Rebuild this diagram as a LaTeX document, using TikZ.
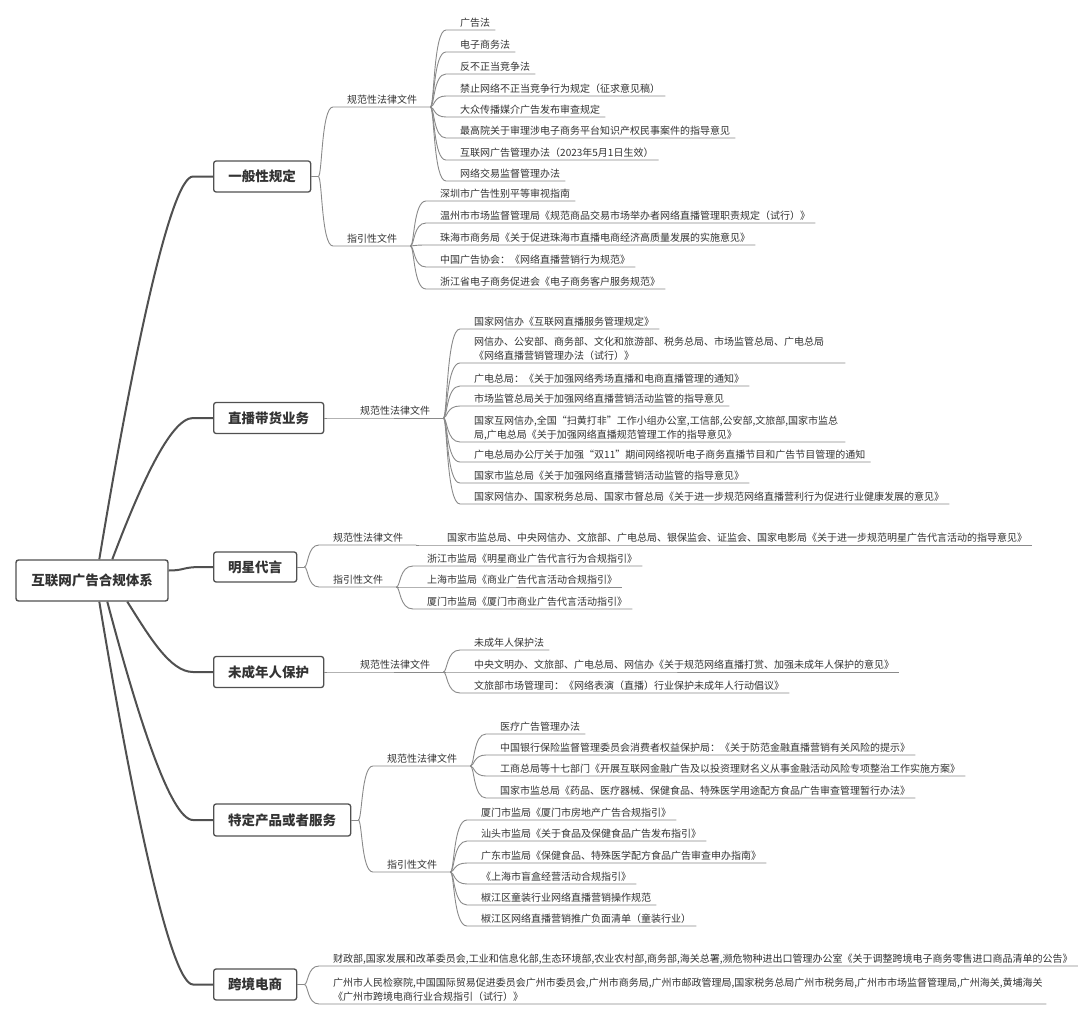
\documentclass[tikz,border=0pt]{standalone}
\usepackage{fontspec}
\setmainfont{Noto Sans CJK SC}
\usetikzlibrary{calc}
\definecolor{mainln}{HTML}{505050}
\definecolor{subln}{HTML}{8A8A8A}
\definecolor{txt}{HTML}{333333}
\tikzset{
  rootbox/.style={draw=mainln, line width=1.4pt, rounded corners=2.5pt, fill=white,
    minimum width=152pt, minimum height=41pt, inner sep=0pt,
    font=\fontsize{13.5}{16}\selectfont\bfseries, text=txt},
  mainbox/.style={draw=mainln, line width=1.3pt, rounded corners=2.5pt, fill=white,
    minimum height=31pt, inner sep=0pt, anchor=west,
    font=\fontsize{13.5}{16}\selectfont\bfseries, text=txt},
  mainline/.style={draw=mainln, line width=2pt},
  subline/.style={draw=subln, line width=0.9pt},
  leafnode/.style={anchor=south west, inner xsep=0pt, inner ysep=3.5pt, text depth=0pt,
    font=\fontsize{10}{14}\selectfont, text=txt},
}
\newcommand\twolines[3]{\parbox[b]{#1}{\raggedright #2\\#3}}
\newcommand\mmleaf[5]{%
  \node[leafnode] (#1) at (#3,#4) {#5};
  \draw[subline] (#2) .. controls ($(#2)+(4,0)$) and ($(#2 |- #1.south)+(3,0)$) ..
    ($(#1.south west)+(-14,0)$) -- ($(#1.south east)+(5,0)$);
}
\newcommand\mmmid[5]{%
  \node[leafnode] (#1) at (#3,#4) {#5};
  \draw[subline] (#2) .. controls ($(#2)+(4,0)$) and ($(#2 |- #1.south)+(3,0)$) ..
    ($(#1.south west)+(-14,0)$) -- ($(#1.south east)+(13,0)$) coordinate (#1f);
}
\begin{document}
\begin{tikzpicture}[x=1pt,y=-1pt]
\useasboundingbox[fill=white] (0,0) rectangle (1080,1017);

% root and main topics
\node[rootbox] (root) at (92,580.5) {互联网广告合规体系};
\node[mainbox, minimum width=97pt] (m1) at (213,176.5) {一般性规定};
\node[mainbox, minimum width=110pt] (m2) at (213,418) {直播带货业务};
\node[mainbox, minimum width=83pt, minimum height=30pt] (m3) at (213,567) {明星代言};
\node[mainbox, minimum width=110pt] (m4) at (213,672) {未成年人保护};
\node[mainbox, minimum width=137pt, minimum height=32pt] (m5) at (213,820) {特定产品或者服务};
\node[mainbox, minimum width=83pt] (m6) at (213,984.5) {跨境电商};

% root connectors
\coordinate (r1) at ($(root.north west)+(84,0)$);
\coordinate (r2) at ($(root.north west)+(97,0)$);
\coordinate (r3) at ($(root.east)+(0,-10)$);
\coordinate (r4) at ($(root.south west)+(112,0)$);
\coordinate (r5) at ($(root.south west)+(92,0)$);
\coordinate (r6) at ($(root.south west)+(84,0)$);
\draw[mainline] (r1) .. controls (131,368) and (170,176.5) .. ($(m1.west)+(-20,0)$) -- (m1.west);
\draw[mainline] (r2) .. controls (139,489) and (170,418) .. ($(m2.west)+(-20,0)$) -- (m2.west);
\draw[mainline] (r3) .. controls (185,570.5) and (182,567) .. ($(m3.west)+(-12,0)$) -- (m3.west);
\draw[mainline] (r4) .. controls (149,636) and (170,672) .. ($(m4.west)+(-20,0)$) -- (m4.west);
\draw[mainline] (r5) .. controls (136,710) and (170,820) .. ($(m5.west)+(-20,0)$) -- (m5.west);
\draw[mainline] (r6) .. controls (131,793) and (170,984.5) .. ($(m6.west)+(-20,0)$) -- (m6.west);

% stubs
\draw[subline] (m1.east) -- ++(7,0) coordinate (m1s);
\draw[subline] (m3.east) -- ++(7,0) coordinate (m3s);
\draw[subline] (m5.east) -- ++(7,0) coordinate (m5s);
\draw[subline] (m6.east) -- ++(7,0) coordinate (m6s);

% ---- 一般性规定
\mmmid{g1a}{m1s}{347}{107}{规范性法律文件}
\mmleaf{l11}{g1af}{460}{30}{广告法}
\mmleaf{l12}{g1af}{460}{52}{电子商务法}
\mmleaf{l13}{g1af}{460}{74}{反不正当竞争法}
\mmleaf{l14}{g1af}{460}{96}{禁止网络不正当竞争行为规定（征求意见稿）}
\mmleaf{l15}{g1af}{460}{117}{大众传播媒介广告发布审查规定}
\mmleaf{l16}{g1af}{460}{138}{最高院关于审理涉电子商务平台知识产权民事案件的指导意见}
\mmleaf{l17}{g1af}{460}{160}{互联网广告管理办法（2023年5月1日生效）}
\mmleaf{l18}{g1af}{460}{181}{网络交易监督管理办法}
\mmmid{g1b}{m1s}{347}{246}{指引性文件}
\mmleaf{l19}{g1bf}{440}{201}{深圳市广告性别平等审视指南}
\mmleaf{l1a}{g1bf}{440}{223}{温州市市场监督管理局《规范商品交易市场举办者网络直播管理职责规定（试行）》}
\mmleaf{l1b}{g1bf}{440}{245}{珠海市商务局《关于促进珠海市直播电商经济高质量发展的实施意见》}
\mmleaf{l1c}{g1bf}{440}{267}{中国广告协会：《网络直播营销行为规范》}
\mmleaf{l1d}{g1bf}{440}{289}{浙江省电子商务促进会《电子商务客户服务规范》}

% ---- 直播带货业务
\mmmid{g2a}{m2.east}{360}{418}{规范性法律文件}
\mmleaf{l21}{g2af}{474}{329}{国家网信办《互联网直播服务管理规定》}
\mmleaf{l22}{g2af}{474}{363}{\twolines{366pt}{网信办、公安部、商务部、文化和旅游部、税务总局、市场监管总局、广电总局}{《网络直播营销管理办法（试行）》}}
\mmleaf{l23}{g2af}{474}{386}{广电总局：《关于加强网络秀场直播和电商直播管理的通知》}
\mmleaf{l24}{g2af}{474}{406}{市场监管总局关于加强网络直播营销活动监管的指导意见}
\mmleaf{l25}{g2af}{474}{442}{\twolines{366pt}{国家互网信办,全国“扫黄打非”工作小组办公室,工信部,公安部,文旅部,国家市监总}{局,广电总局《关于加强网络直播规范管理工作的指导意见》}}
\mmleaf{l26}{g2af}{474}{462}{广电总局办公厅关于加强“双11”期间网络视听电子商务直播节目和广告节目管理的通知}
\mmleaf{l27}{g2af}{474}{483}{国家市监总局《关于加强网络直播营销活动监管的指导意见》}
\mmleaf{l28}{g2af}{474}{504}{国家网信办、国家税务总局、国家市督总局《关于进一步规范网络直播营利行为促进行业健康发展的意见》}

% ---- 明星代言
\mmmid{g3a}{m3s}{333}{545}{规范性法律文件}
\mmleaf{l31}{g3af}{447}{545}{国家市监总局、中央网信办、文旅部、广电总局、银保监会、证监会、国家电影局《关于进一步规范明星广告代言活动的指导意见》}
\mmmid{g3b}{m3s}{333}{587}{指引性文件}
\mmleaf{l32}{g3bf}{427}{566}{浙江市监局《明星商业广告代言行为合规指引》}
\mmleaf{l33}{g3bf}{427}{587}{上海市监局《商业广告代言活动合规指引》}
\mmleaf{l34}{g3bf}{427}{609}{厦门市监局《厦门市商业广告代言活动指引》}

% ---- 未成年人保护
\mmmid{g4a}{m4.east}{360}{672}{规范性法律文件}
\mmleaf{l41}{g4af}{474}{650}{未成年人保护法}
\mmleaf{l42}{g4af}{474}{672}{中央文明办、文旅部、广电总局、网信办《关于规范网络直播打赏、加强未成年人保护的意见》}
\mmleaf{l43}{g4af}{474}{693}{文旅部市场管理司：《网络表演（直播）行业保护未成年人行动倡议》}

% ---- 特定产品或者服务
\mmmid{g5a}{m5s}{387}{766}{规范性法律文件}
\mmleaf{l51}{g5af}{500}{734}{医疗广告管理办法}
\mmleaf{l52}{g5af}{500}{755}{中国银行保险监督管理委员会消费者权益保护局：《关于防范金融直播营销有关风险的提示》}
\mmleaf{l53}{g5af}{500}{776}{工商总局等十七部门《开展互联网金融广告及以投资理财名义从事金融活动风险专项整治工作实施方案》}
\mmleaf{l54}{g5af}{500}{798}{国家市监总局《药品、医疗器械、保健食品、特殊医学用途配方食品广告审查管理暂行办法》}
\mmmid{g5b}{m5s}{387}{872}{指引性文件}
\mmleaf{l55}{g5bf}{481}{820}{厦门市监局《厦门市房地产广告合规指引》}
\mmleaf{l56}{g5bf}{481}{841}{汕头市监局《关于食品及保健食品广告发布指引》}
\mmleaf{l57}{g5bf}{481}{863}{广东市监局《保健食品、特殊医学配方食品广告审查申办指南》}
\mmleaf{l58}{g5bf}{481}{884}{《上海市盲盒经营活动合规指引》}
\mmleaf{l59}{g5bf}{481}{905}{椒江区童装行业网络直播营销操作规范}
\mmleaf{l5a}{g5bf}{481}{926}{椒江区网络直播营销推广负面清单（童装行业）}

% ---- 跨境电商
\mmleaf{l61}{m6s}{333}{966}{财政部,国家发展和改革委员会,工业和信息化部,生态环境部,农业农村部,商务部,海关总署,濒危物种进出口管理办公室《关于调整跨境电子商务零售进口商品清单的公告》}
\mmleaf{l62}{m6s}{333}{1004}{\twolines{708pt}{广州市人民检察院,中国国际贸易促进委员会广州市委员会,广州市商务局,广州市邮政管理局,国家税务总局广州市税务局,广州市市场监督管理局,广州海关,黄埔海关}{《广州市跨境电商行业合规指引（试行）》}}
\end{tikzpicture}
\end{document}
